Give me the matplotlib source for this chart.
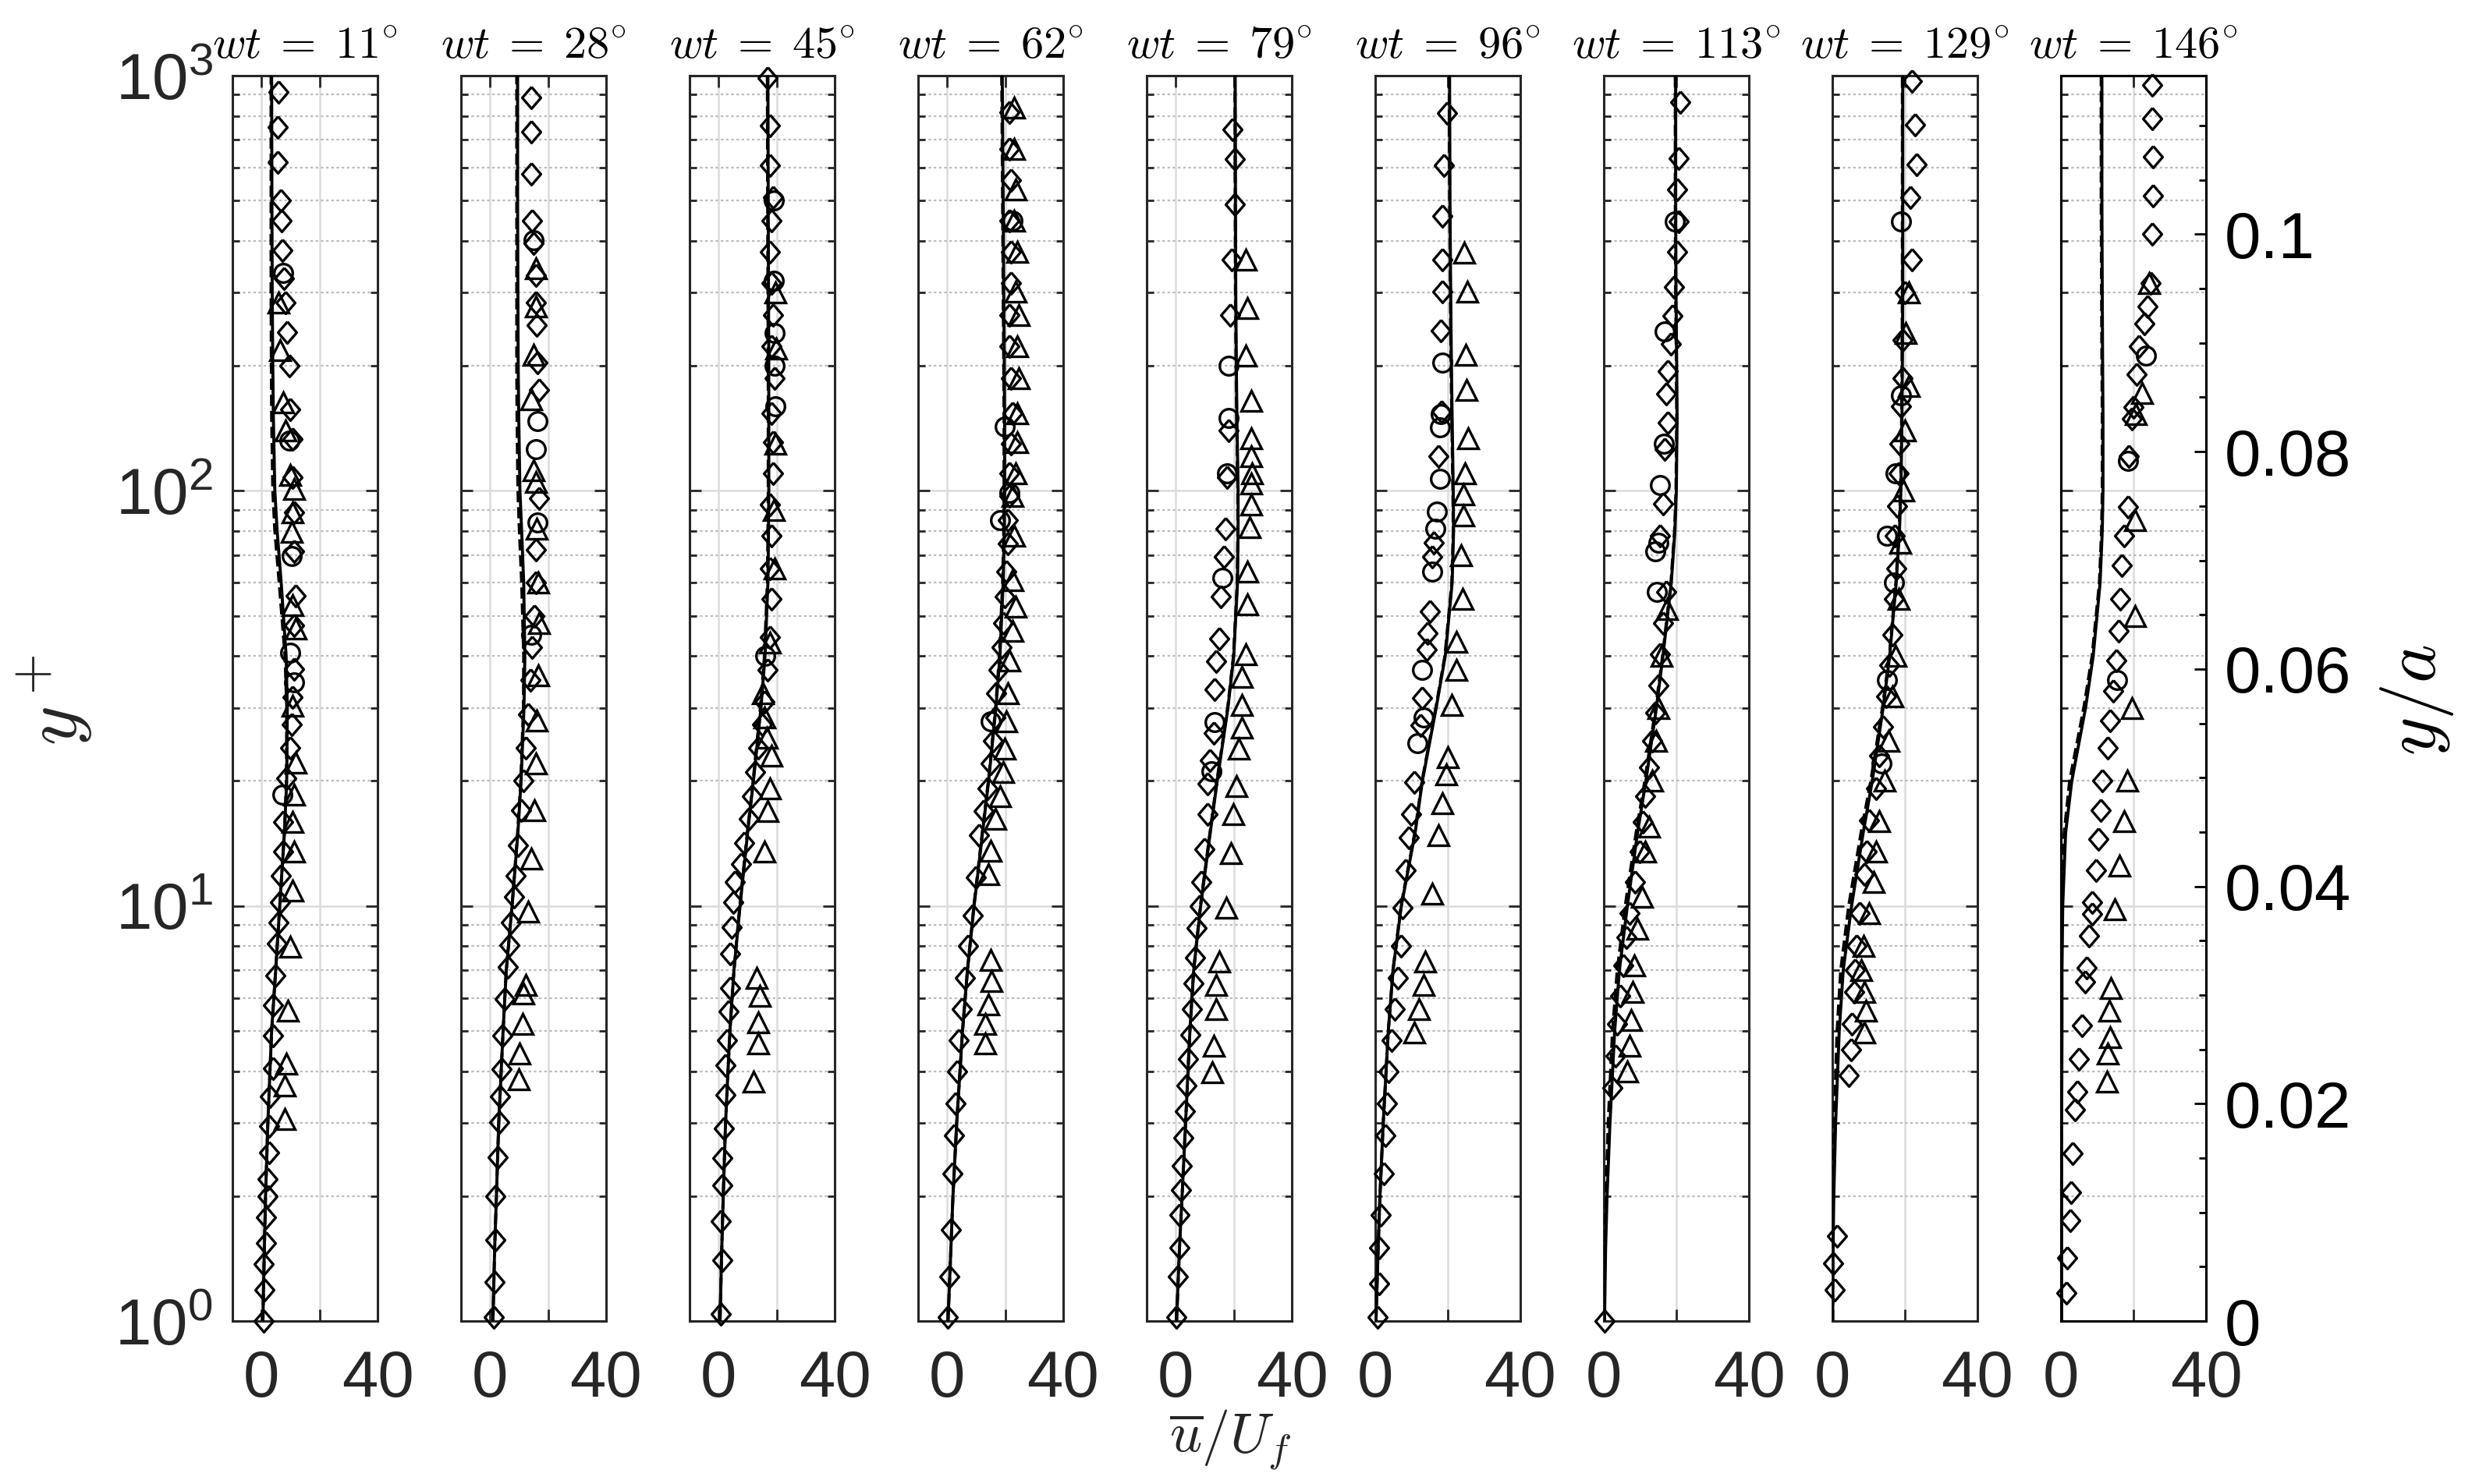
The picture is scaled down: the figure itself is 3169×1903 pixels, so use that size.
#!/usr/bin/env python3
"""
Mean velocity profiles u/U_f vs y+ at nine phases of the oscillation
"""
import matplotlib.pyplot as plt
from matplotlib.ticker import LogLocator, NullFormatter, FixedLocator, MultipleLocator

plt.rcParams['font.family'] = ['Liberation Sans', 'DejaVu Sans']
plt.rcParams['mathtext.fontset'] = 'cm'

# ---------------------------------------------------------------- data
phases = [11, 28, 45, 62, 79, 96, 113, 129, 146]

# y+ stations where the simulation curves were read
yp_line = [1, 1.5, 2, 3, 5, 7, 10, 15, 20, 30, 40, 60, 80, 100, 150, 200, 300, 500, 1000]

# solid curve, one row per phase
line_u = [
    [0.5, 1.0, 1.4, 2.2, 3.5, 4.9, 6.3, 7.9, 8.7, 8.9, 8.5, 6.8, 5.4, 4.6, 4.1, 3.9, 3.7, 3.6, 3.5],
    [1.0, 1.6, 2.2, 3.0, 4.5, 5.6, 7.6, 9.6, 10.7, 11.7, 12.0, 11.6, 10.9, 10.3, 9.9, 9.7, 9.6, 9.5, 9.5],
    [0.5, 1.1, 1.6, 2.4, 3.9, 5.3, 7.4, 10.0, 12.0, 14.6, 16.0, 17.0, 17.2, 17.3, 17.3, 17.3, 17.2, 17.1, 17.0],
    [0.3, 1.3, 2.0, 3.3, 5.3, 7.0, 9.3, 12.2, 14.3, 16.8, 18.2, 19.3, 19.7, 19.8, 19.8, 19.7, 19.5, 19.3, 19.0],
    [0.3, 1.3, 2.2, 3.4, 4.9, 6.2, 8.6, 11.9, 14.3, 18.0, 20.0, 21.3, 21.5, 21.5, 21.1, 20.9, 20.7, 20.6, 20.5],
    [0.2, 0.8, 1.3, 2.2, 3.6, 4.9, 7.2, 11.0, 13.0, 16.8, 19.3, 21.2, 21.6, 21.5, 21.2, 21.0, 20.8, 20.6, 20.5],
    [0.2, 0.5, 0.9, 1.7, 3.0, 4.3, 6.5, 9.3, 11.6, 14.5, 16.3, 18.6, 19.6, 20.0, 20.2, 20.1, 19.9, 19.8, 19.8],
    [0.1, 0.2, 0.4, 0.9, 1.9, 3.0, 5.3, 8.5, 11.0, 14.0, 15.8, 17.6, 18.5, 18.9, 19.2, 19.3, 19.4, 19.4, 19.4],
    [0.2, 0.2, 0.2, 0.2, 0.3, 0.3, 0.5, 1.3, 3.0, 6.8, 8.9, 10.8, 11.4, 11.6, 11.6, 11.5, 11.4, 11.3, 11.3],
]

# dashed curve, one row per phase
dash_u = [
    [0.5, 1.0, 1.4, 2.2, 3.5, 4.9, 6.3, 7.9, 8.6, 8.7, 8.1, 6.1, 4.6, 3.9, 3.5, 3.4, 3.3, 3.3, 3.3],
    [1.0, 1.6, 2.2, 3.0, 4.5, 5.6, 7.6, 9.5, 10.6, 11.5, 11.6, 10.9, 10.1, 9.6, 9.3, 9.2, 9.2, 9.2, 9.2],
    [0.5, 1.1, 1.6, 2.4, 3.9, 5.3, 7.3, 9.9, 11.9, 14.4, 15.8, 16.8, 17.0, 17.1, 17.1, 17.1, 17.0, 16.9, 16.8],
    [0.3, 1.3, 2.0, 3.3, 5.3, 7.0, 9.2, 12.1, 14.2, 16.7, 18.0, 19.1, 19.5, 19.6, 19.6, 19.5, 19.3, 19.1, 18.8],
    [0.3, 1.3, 2.2, 3.4, 4.9, 6.2, 8.5, 11.8, 14.2, 17.9, 19.9, 21.2, 21.4, 21.4, 21.0, 20.8, 20.6, 20.5, 20.4],
    [0.2, 0.8, 1.3, 2.2, 3.6, 4.9, 7.1, 10.9, 12.9, 16.7, 19.2, 21.1, 21.5, 21.4, 21.1, 20.9, 20.7, 20.5, 20.4],
    [0.1, 0.3, 0.6, 1.2, 2.4, 3.7, 5.9, 8.9, 11.3, 14.3, 16.2, 18.5, 19.5, 19.9, 20.1, 20.0, 19.8, 19.7, 19.7],
    [0.1, 0.1, 0.2, 0.5, 1.3, 2.3, 4.5, 7.9, 10.6, 13.8, 15.7, 17.5, 18.4, 18.8, 19.1, 19.2, 19.3, 19.3, 19.3],
    [0.1, 0.1, 0.1, 0.1, 0.2, 0.2, 0.3, 0.9, 2.4, 6.3, 8.6, 10.6, 11.2, 11.4, 11.4, 11.3, 11.2, 11.1, 11.1],
]

# measurements, (y+, u/U_f)
dia_11 = [(1.0, 0.75), (1.19, 1.1), (1.37, 0.75), (1.54, 1.6), (1.78, 1.6), (2.0, 2.1), (2.2, 2.1),
          (2.55, 2.5), (2.95, 2.5), (3.47, 3.0), (4.06, 3.9), (4.87, 3.9), (5.77, 3.9), (6.8, 4.9),
          (8.1, 5.3), (9.1, 5.9), (10.2, 6.4), (11.8, 6.7), (13.5, 7.6), (15.9, 7.6), (20.3, 8.6),
          (24.0, 9.9), (27.4, 10.3), (31.8, 10.8), (37.2, 11.3), (47.4, 11.3), (55.8, 11.7),
          (71.6, 11.3), (88.6, 11.3), (108, 10.8), (133, 10.8), (157, 9.9), (200, 9.5), (241, 8.7),
          (284, 8.4), (325, 7.8), (379, 7.3), (447, 6.9), (501, 6.7), (619, 5.7), (752, 5.7), (914, 5.9)]
cir_11 = [(18.5, 7.2), (34.6, 11.3), (40.7, 9.9), (69.6, 10.4), (132, 9.5), (335, 7.6)]
tri_11 = [(3.06, 8.0), (3.69, 8.0), (4.17, 8.5), (5.6, 9.0), (7.96, 9.9), (10.9, 10.8), (13.5, 11.3),
          (15.9, 10.8), (18.5, 11.3), (22.1, 11.7), (30.3, 10.8), (46.5, 11.7), (53, 10.8), (79.5, 10.4),
          (88.6, 10.8), (101, 11.3), (109, 9.9), (140, 8.2), (163, 7.6), (218, 6.4), (284, 5.9)]

dia_28 = [(1.02, 1.3), (1.24, 1.6), (1.57, 1.9), (2.0, 1.9), (2.48, 2.6), (3.01, 3.3), (3.47, 3.5),
          (4.04, 4.0), (4.87, 4.3), (5.96, 5.1), (7.14, 6.1), (8.04, 6.8), (9.1, 7.1), (10.5, 8.2),
          (11.8, 8.8), (14, 9.6), (17, 10.6), (20, 11.4), (24, 12.4), (29, 13.1), (35, 13.9), (42, 14.5),
          (50, 15.3), (60, 15.8), (72, 15.8), (96, 17.0), (175, 17.0), (204, 16.4), (251, 16.2),
          (284, 15.7), (331, 15.7), (394, 15.0), (447, 14.5), (580, 14.3), (733, 14.3), (887, 14.3)]
cir_28 = [(45, 14.3), (84, 16.4), (126, 15.7), (147, 16.4), (401, 15.0)]
tri_28 = [(3.82, 9.8), (4.41, 10.2), (5.2, 11.2), (6.15, 11.6), (6.45, 12.3), (9.67, 13.0), (13, 14.2),
          (17, 15.2), (22, 15.8), (28, 16.0), (36, 16.5), (48, 16.8), (60, 16.5), (81, 16.2), (105, 15.7),
          (112, 15.0), (166, 14.3), (213, 15.0), (278, 15.7), (344, 15.7)]

dia_45 = [(1.04, 0.7), (1.4, 1.2), (1.74, 0.7), (2.12, 1.2), (2.47, 1.2), (2.91, 1.8), (3.5, 2.3),
          (4.13, 2.3), (4.75, 2.8), (5.56, 3.4), (6.34, 3.9), (7.68, 3.9), (8.9, 4.5), (10.2, 5.0),
          (11.4, 5.6), (12.6, 7.7), (14.2, 8.8), (16.2, 10.5), (18.4, 11.6), (21, 12.6), (24, 13.7),
          (27.3, 15.0), (31, 15.9), (37, 17.0), (44.4, 17.6), (55, 18.1), (65, 17.6), (78, 18.1),
          (92.5, 17.6), (110, 18.7), (131, 18.7), (154, 18.1), (187, 19.2), (223, 18.1), (265, 18.7),
          (316, 18.1), (376, 17.6), (448, 18.1), (510, 18.7), (609, 17.6), (758, 17.6), (985, 17.0)]
cir_45 = [(40, 16.0), (160, 19.5), (200, 19.2), (240, 19.2), (320, 19.0), (500, 19.0)]
tri_45 = [(3.78, 12.1), (4.66, 13.7), (5.25, 13.7), (6.06, 14.3), (6.7, 13.2), (13.5, 15.9), (16.9, 17.0),
          (19.2, 17.6), (23, 18.1), (25.4, 16.5), (28.5, 15.9), (32.5, 15.4), (43, 17.6), (65, 19.2),
          (90, 19.0), (130, 19.5), (220, 19.8), (300, 19.5)]

dia_62 = [(1.02, 0.1), (1.28, 0.7), (1.66, 1.2), (2.26, 1.7), (2.8, 2.3), (3.35, 2.8), (4.0, 3.4),
          (4.75, 3.9), (5.65, 5.0), (6.7, 6.1), (8.0, 7.2), (9.5, 8.8), (11.7, 9.9), (14.8, 11.0),
          (16.9, 12.7), (19.2, 13.8), (22, 14.9), (25, 15.9), (28.5, 16.5), (32.5, 17.0), (37, 17.6),
          (42, 18.7), (48, 19.2), (55.5, 19.8), (64, 20.3), (74.5, 20.9), (85, 20.9), (97, 21.4),
          (110, 21.4), (130, 21.9), (154, 22.5), (187, 21.9), (223, 21.4), (265, 21.4), (316, 21.9),
          (376, 21.9), (448, 21.4), (560, 21.9), (666, 21.4), (817, 21.4)]
cir_62 = [(27.8, 14.9), (85, 18.1), (99, 21.4), (143, 19.8), (448, 22.5)]
tri_62 = [(4.66, 13.2), (5.2, 13.2), (5.8, 14.3), (6.6, 15.4), (7.4, 14.9), (11.9, 14.3), (13.6, 14.9),
          (16.2, 16.5), (18.4, 18.1), (21, 19.2), (23.9, 19.8), (27.8, 20.3), (32.5, 20.9), (39, 21.4),
          (46, 22.5), (52.5, 23.6), (61, 22.5), (78, 23.0), (97, 22.5), (110, 23.6), (131, 24.1),
          (154, 24.1), (187, 24.7), (223, 24.1), (265, 24.7), (302, 23.6), (376, 24.1), (448, 23.0),
          (532, 23.6), (666, 23.0), (838, 23.0)]

dia_79 = [(1.02, 0.3), (1.28, 0.8), (1.5, 1.2), (1.8, 1.4), (2.07, 1.8), (2.36, 2.2), (2.76, 2.7),
          (3.2, 3.2), (3.7, 3.8), (4.27, 4.3), (4.9, 5.0), (5.65, 5.6), (6.5, 6.1), (7.5, 6.7),
          (8.86, 7.3), (10, 8.3), (11.4, 8.8), (13.7, 9.9), (16.6, 10.9), (19.7, 10.9), (22.4, 11.9),
          (26.1, 13.0), (33.2, 13.3), (38.8, 14.0), (44.1, 15.0), (55.5, 15.6), (69.3, 16.6), (81, 17.1),
          (108, 17.6), (140, 18.1), (265, 18.7), (360, 19.2), (490, 20.3), (630, 20.3), (743, 19.7)]
cir_79 = [(21.1, 12.4), (27.7, 13.5), (61.7, 16.1), (110, 17.6), (150, 18.1), (200, 18.1)]
tri_79 = [(3.98, 12.7), (4.6, 13.2), (5.65, 13.8), (6.45, 13.8), (7.36, 14.9), (9.9, 17.4), (13.4, 18.9),
          (16.6, 19.9), (19.4, 20.9), (23.9, 21.6), (26.9, 22.8), (30.5, 22.8), (35.6, 22.8), (40.3, 24.1),
          (53.3, 24.6), (64, 24.6), (81.6, 25.5), (92.5, 25.9), (104, 25.9), (110, 26.2), (121, 25.9),
          (134, 25.9), (165, 25.9), (212, 24.1), (276, 24.7), (360, 24.1)]

dia_96 = [(1.02, 0.7), (1.23, 1.1), (1.5, 1.1), (1.8, 1.5), (2.26, 2.4), (2.8, 2.8), (3.35, 3.3),
          (4.0, 3.7), (4.75, 4.6), (5.65, 5.4), (6.7, 6.3), (8.0, 7.2), (9.9, 7.5), (12.2, 8.3),
          (14.6, 9.3), (16.6, 10.0), (19.9, 10.8), (27.2, 12.5), (31.7, 12.9), (41.5, 14.1), (45.3, 14.5),
          (51.3, 15.1), (69.3, 15.6), (74.8, 16.2), (121, 17.4), (155, 18.2), (243, 18.1), (302, 18.5),
          (360, 18.5), (459, 18.5), (607, 18.9), (811, 19.8)]
cir_96 = [(24.7, 11.6), (28.5, 13.3), (37.1, 12.9), (64, 15.8), (81, 16.6), (89, 17.0), (107, 17.8),
          (142, 17.8), (153, 18.1), (204, 18.5)]
tri_96 = [(4.96, 10.7), (5.65, 12.0), (6.45, 13.3), (7.36, 13.7), (10.7, 15.8), (14.8, 17.4), (17.7, 18.6),
          (20.7, 19.5), (22.8, 19.9), (30.5, 21.1), (37.1, 22.3), (43.2, 22.3), (55, 24.0), (70, 23.6),
          (87.3, 24.4), (98, 24.4), (110, 24.8), (134, 25.6), (175, 25.2), (213, 25.0), (302, 25.4),
          (375, 24.6)]

dia_113 = [(1.0, 0.3), (3.65, 2.4), (4.36, 3.3), (5.2, 3.7), (6.06, 4.6), (7.2, 5.4), (8.4, 6.3),
           (9.6, 7.2), (11.4, 8.5), (13.5, 9.8), (15.9, 10.7), (18.4, 11.5), (21.6, 12.4), (25, 13.3),
           (29.2, 14.1), (34, 15.0), (40.3, 15.5), (48, 16.3), (57, 17.2), (78, 15.5), (93, 16.3),
           (126, 16.8), (146, 17.6), (171, 17.2), (194, 17.6), (226, 18.5), (264, 18.9), (310, 19.4),
           (376, 20.2), (445, 20.7), (532, 20.2), (633, 20.7), (862, 21.1)]
cir_113 = [(57, 14.6), (71.6, 14.1), (75, 15.0), (103, 15.5), (130, 16.5), (242, 16.8), (445, 19.5)]
tri_113 = [(4.0, 6.5), (4.6, 7.0), (5.3, 7.6), (6.2, 8.0), (7.2, 8.3), (8.8, 9.2), (10.5, 10.5),
           (13.5, 11.5), (15.5, 12.4), (20, 13.3), (25, 14.5), (30, 15.0), (40, 16.0), (52, 17.5)]

dia_129 = [(1.19, 0.7), (1.38, 0.3), (1.6, 1.2), (3.9, 4.5), (4.5, 5.2), (5.2, 5.4), (6.2, 6.0),
           (7.0, 6.3), (8.0, 6.7), (9.6, 7.6), (11.9, 8.9), (13.5, 9.5), (16.1, 10.2), (19.2, 12.0),
           (23, 13.0), (27, 14.0), (32, 14.8), (38, 15.6), (45, 16.5), (55, 16.9), (65, 17.6), (78, 17.2),
           (92, 17.8), (110, 18.3), (130, 18.5), (160, 19.0), (187, 19.4), (231, 19.4), (300, 20.0),
           (360, 22.0), (510, 21.5), (610, 23.3), (760, 22.8), (970, 22.0)]
cir_129 = [(22, 13.5), (35, 15.0), (60, 17.0), (78, 15.0), (110, 17.4), (170, 19.0), (445, 19.0)]
tri_129 = [(4.96, 8.9), (5.6, 9.2), (6.2, 8.9), (7.0, 8.0), (8.0, 8.5), (9.6, 10.2), (11.4, 11.3),
           (13.5, 12.0), (16, 13.0), (20, 14.5), (25, 15.5), (32, 16.5), (40, 17.5), (55, 18.3),
           (75, 18.8), (100, 19.5), (140, 20.0), (179, 21.0), (240, 20.2), (300, 21.0)]

dia_146 = [(1.17, 1.6), (1.42, 1.8), (1.75, 2.5), (2.04, 2.7), (2.53, 3.2), (3.23, 3.9), (3.57, 4.6),
           (4.27, 5.0), (5.15, 5.8), (6.57, 6.7), (7.1, 7.1), (8.48, 7.8), (9.58, 8.7), (10.2, 8.7),
           (12.2, 9.6), (14.5, 10.3), (17, 11.0), (20, 11.5), (24, 13.0), (28, 13.5), (33, 14.5),
           (39, 15.2), (46, 16.0), (55, 16.4), (66, 16.8), (78, 17.4), (91.6, 18.5), (121, 18.8),
           (149, 19.5), (159, 20.0), (191, 20.8), (223, 21.5), (253, 23.1), (278, 23.8), (316, 24.7),
           (416, 25.2), (514, 25.4), (638, 25.4), (789, 25.2), (948, 25.2)]
cir_146 = [(35, 15.5), (118, 18.5), (212, 23.4)]
tri_146 = [(3.78, 12.6), (4.41, 12.8), (4.82, 13.5), (5.6, 13.3), (6.35, 13.7), (9.8, 14.8), (12.5, 16.2),
           (16, 17.5), (20, 18.2), (30, 19.5), (50, 20.5), (85, 20.4), (153, 20.6), (172, 22.3), (316, 24.3)]

diamonds = [dia_11, dia_28, dia_45, dia_62, dia_79, dia_96, dia_113, dia_129, dia_146]
circles = [cir_11, cir_28, cir_45, cir_62, cir_79, cir_96, cir_113, cir_129, cir_146]
triangles = [tri_11, tri_28, tri_45, tri_62, tri_79, tri_96, tri_113, tri_129, tri_146]

# right-hand axis of the last panel
ya_ticks = [0, 0.02, 0.04, 0.06, 0.08, 0.1]
ya_labels = ['0', '0.02', '0.04', '0.06', '0.08', '0.1']

# ---------------------------------------------------------------- layout
W, H = 3169, 1903
fig = plt.figure(figsize=(W / 100, H / 100), dpi=100)

ax_left, ax_step, ax_w = 298, 293, 186
ax_top, ax_bot = 97, 1694
dark = '#262626'

# MATLAB-like diamond: a little taller than wide
tall_diamond = [(0, 1), (0.86, 0), (0, -1), (-0.86, 0), (0, 1)]


def style_axis(ax, k):
    ax.set_yscale('log')
    ax.set_ylim(1, 1000)
    ax.set_xlim(-10, 40) if k < 5 else ax.set_xlim(0, 40)
    ax.xaxis.set_major_locator(FixedLocator([0, 20, 40]))
    ax.set_xticklabels(['0', '', '40'])
    ax.yaxis.set_major_locator(LogLocator(base=10, numticks=10))
    ax.yaxis.set_minor_locator(LogLocator(base=10, subs=range(2, 10), numticks=10))
    ax.yaxis.set_minor_formatter(NullFormatter())
    if k > 0:
        ax.yaxis.set_major_formatter(NullFormatter())

    ax.set_axisbelow(True)
    ax.grid(which='major', color='#dcdcdc', lw=1.8, ls='-')
    ax.grid(which='minor', axis='y', color='#bdbdbd', lw=1.6, ls=(0, (1.5, 1.5)))

    ax.tick_params(which='both', direction='in', top=True, right=(k < 8),
                   color=dark, width=2.0, labelcolor=dark, labelsize=60)
    ax.tick_params(which='major', length=11)
    ax.tick_params(which='minor', length=6.5)
    ax.tick_params(axis='x', pad=26)
    ax.tick_params(axis='y', pad=18)
    for sp in ax.spines.values():
        sp.set_linewidth(2.2)
        sp.set_color(dark)


for k, ph in enumerate(phases):
    x0 = (ax_left + k * ax_step) / W
    ax = fig.add_axes([x0, 1 - ax_bot / H, ax_w / W, (ax_bot - ax_top) / H])
    style_axis(ax, k)

    ax.plot(dash_u[k], yp_line, color='k', lw=2.8, ls='--', zorder=3)
    ax.plot(line_u[k], yp_line, color='k', lw=2.8, ls='-', zorder=3)

    for pts, mk, ms in [(diamonds[k], tall_diamond, 20), (circles[k], 'o', 17),
                        (triangles[k], '^', 18.5)]:
        yy = [p[0] for p in pts]
        uu = [p[1] for p in pts]
        ax.plot(uu, yy, ls='none', marker=mk, ms=ms, mfc='none', mec='k', mew=2.4,
                zorder=4, clip_on=False)

    ax.set_title(r'$wt\;=\;%d^{\circ}$' % ph, fontsize=42, pad=16, color='k')

    if k == 8:
        ax2 = ax.twinx()
        ax2.set_ylim(0, 0.1146)
        ax2.yaxis.set_major_locator(FixedLocator(ya_ticks))
        ax2.set_yticklabels(ya_labels)
        ax2.yaxis.set_minor_locator(MultipleLocator(0.005))
        ax2.tick_params(which='both', direction='in', color='k', width=2.0,
                        labelcolor='k', labelsize=60, pad=17)
        ax2.tick_params(which='major', length=11)
        ax2.tick_params(which='minor', length=6.5)
        for sp in ax2.spines.values():
            sp.set_linewidth(2.2)
        ax2.spines['right'].set_color('k')

# axis labels
fig.text(70 / W, 1 - 898 / H, r'$y^+$', rotation=90, fontsize=70,
         ha='center', va='center', color=dark)
fig.text(1577 / W, 1 - 1846 / H, r'$\overline{u}/U_f$', fontsize=52,
         ha='center', va='center', color=dark)
fig.text(3098 / W, 1 - 898 / H, r'$y/a$', rotation=90, fontsize=68,
         ha='center', va='center', color='k')

plt.savefig('out.png', dpi=100)
plt.close()
